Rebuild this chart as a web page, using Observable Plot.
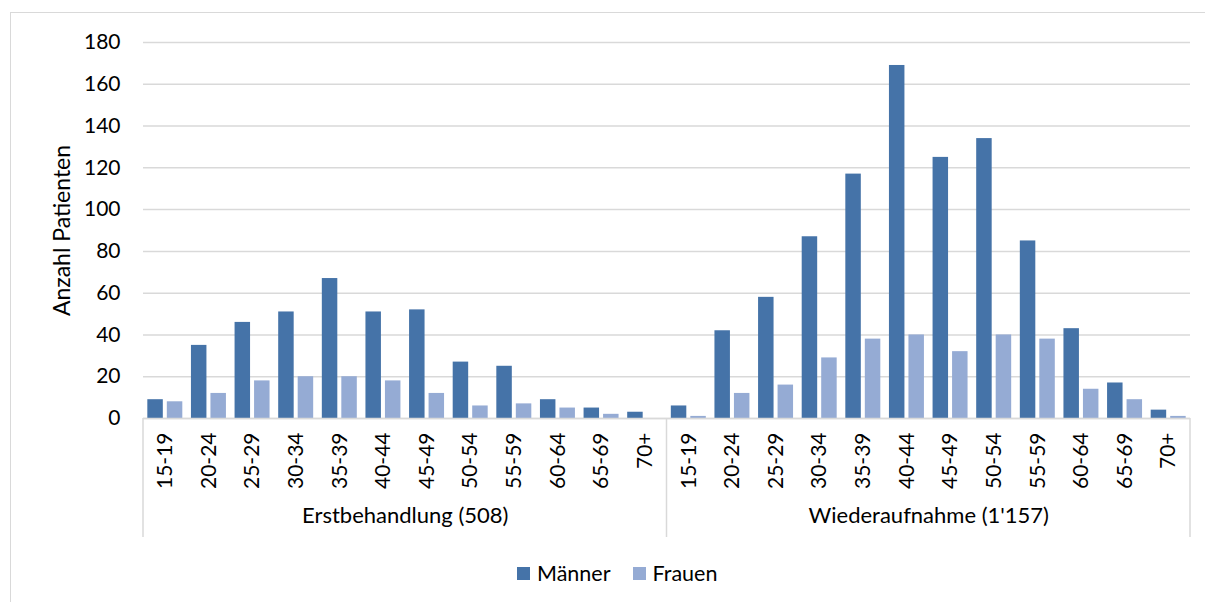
<!DOCTYPE html>
<html>
<head>
<meta charset="utf-8">
<script src="https://cdn.jsdelivr.net/npm/d3@7"></script>
<script src="https://cdn.jsdelivr.net/npm/@observablehq/plot@0.6"></script>
<style>
  html, body { margin: 0; padding: 0; background: #fff; }
  body { width: 1205px; height: 602px; overflow: hidden; position: relative; font-family: Lato, "Open Sans", sans-serif; }
  #frame { position: absolute; left: 10px; top: 12px; width: 1300px; height: 700px; border: 1.5px solid #d9d9d9; box-sizing: border-box; pointer-events: none; }
  #chart { position: absolute; left: 0; top: 0; }
  #legend { position: absolute; left: 517px; top: 560px; display: flex; align-items: center; font-size: 21.5px; color: #000; }
  #legend .sw { width: 13px; height: 13px; display: inline-block; margin-right: 7px; }
  #legend .item { display: flex; align-items: center; margin-right: 22px; }
</style>
</head>
<body>
<div id="frame"></div>
<div id="chart"></div>
<div id="legend"></div>
<script>
const ages = ["15-19","20-24","25-29","30-34","35-39","40-44","45-49","50-54","55-59","60-64","65-69","70+"];
const groups = ["Erstbehandlung (508)", "Wiederaufnahme (1'157)"];
const seriesNames = ["Männer", "Frauen"];
const seriesColors = ["#4573a8", "#95abd4"];
const maennerErst   = [9, 35, 46, 51, 67, 51, 52, 27, 25, 9, 5, 3];
const frauenErst    = [8, 12, 18, 20, 20, 18, 12, 6, 7, 5, 2, 0];
const maennerWieder = [6, 42, 58, 87, 117, 169, 125, 134, 85, 43, 17, 4];
const frauenWieder  = [1, 12, 16, 29, 38, 40, 32, 40, 38, 14, 9, 1];
const yTicks = [0, 20, 40, 60, 80, 100, 120, 140, 160, 180];
const yTitle = "Anzahl Patienten";

const key = (g, a) => g + "|" + a;
const keys = groups.flatMap(g => ages.map(a => key(g, a)));
const valuesBy = {
  [groups[0]]: {"Männer": maennerErst, "Frauen": frauenErst},
  [groups[1]]: {"Männer": maennerWieder, "Frauen": frauenWieder}
};
const rows = groups.flatMap(g => seriesNames.flatMap(s => ages.map((a, i) => ({group: g, age: a, sex: s, key: key(g, a), value: valuesBy[g][s][i]}))));

const W = 1205, H = 550, ML = 143, MR = 15, MT = 42, MB = 132;
const band = (W - ML - MR) / keys.length;
const font = "Lato, 'Open Sans', sans-serif";

const plot = Plot.plot({
  width: W, height: H,
  marginLeft: ML, marginRight: MR, marginTop: MT, marginBottom: MB,
  style: {fontFamily: font, fontSize: "21px", color: "#000", background: "transparent", overflow: "visible"},
  x: {domain: keys, padding: 0, round: false},
  y: {domain: [0, 180]},
  marks: [
    Plot.gridY(yTicks, {stroke: "#d9d9d9", strokeOpacity: 1, strokeWidth: 1.5}),
    Plot.barY(rows.filter(d => d.sex === "Männer"), {x: "key", y: "value", fill: seriesColors[0], insetLeft: band * 0.099, insetRight: band * 0.546}),
    Plot.barY(rows.filter(d => d.sex === "Frauen"), {x: "key", y: "value", fill: seriesColors[1], insetLeft: band * 0.546, insetRight: band * 0.099}),
    Plot.ruleY([0], {stroke: "#d9d9d9", strokeWidth: 1.5}),
    Plot.axisY({ticks: yTicks, tickSize: 0, tickPadding: 23, fontSize: 21, label: null}),
    Plot.text([yTitle], {text: d => d, frameAnchor: "left", textAnchor: "middle", rotate: -90, dx: -81, fontSize: 23, fill: "#000"}),
    Plot.axisX({tickSize: 0, tickPadding: 14, tickRotate: -90, fontSize: 21, tickFormat: d => d.split("|")[1], label: null}),
    Plot.text(groups, {x: g => key(g, ages[5]), text: d => d, frameAnchor: "bottom", dx: band / 2, dy: 104, fontSize: 22, fill: "#000"})
  ]
});
document.getElementById("chart").appendChild(plot);

// group separators on the category axis
const xs = plot.scale("x");
const svg = d3.select(plot);
const y0 = H - MB;
const seps = [xs.apply(keys[0]), xs.apply(key(groups[1], ages[0])), xs.apply(keys[keys.length - 1]) + xs.bandwidth];
svg.append("g").selectAll("line").data(seps).join("line")
  .attr("x1", d => d).attr("x2", d => d).attr("y1", y0).attr("y2", y0 + 119)
  .attr("stroke", "#d9d9d9").attr("stroke-width", 1.5);

// legend
const lg = d3.select("#legend");
seriesNames.forEach((s, i) => {
  const it = lg.append("div").attr("class", "item");
  it.append("span").attr("class", "sw").style("background", seriesColors[i]);
  it.append("span").text(s);
});
</script>
</body>
</html>
